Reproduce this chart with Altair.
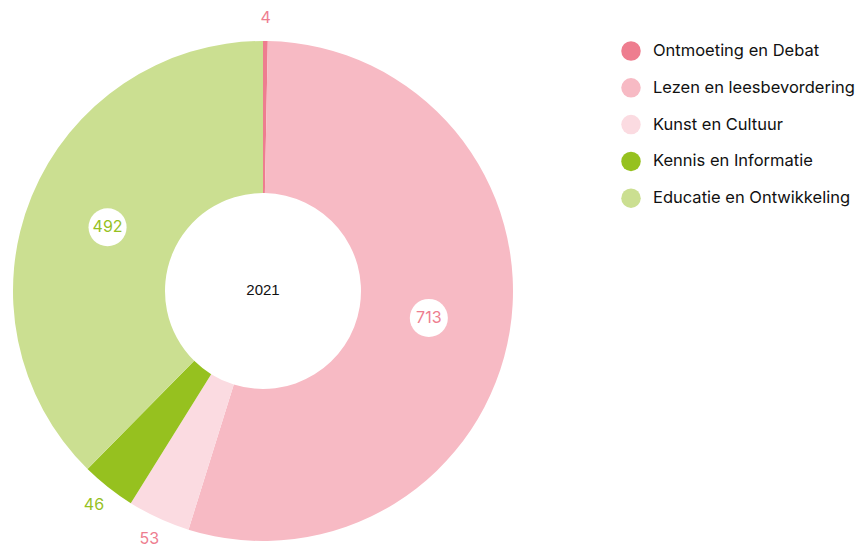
import altair as alt
import pandas as pd

categories = ["Ontmoeting en Debat", "Lezen en leesbevordering", "Kunst en Cultuur",
              "Kennis en Informatie", "Educatie en Ontwikkeling"]
values = [4, 713, 53, 46, 492]
slice_colors = ["#ee7d8f", "#f7bac4", "#fbdbe1", "#96c11f", "#cbdf91"]
label_colors = ["#ee7d8f", "#ee7d8f", "#ee7d8f", "#96c11f", "#96c11f"]
center_label = "2021"

df = pd.DataFrame({"cat": categories, "value": values, "idx": list(range(len(values)))})

CX, CY = 255, 283
R_IN, R_OUT = 98, 250
R_LAB_IN, R_LAB_OUT = 168, 273

base = alt.Chart(df)

arcs = base.mark_arc(innerRadius=R_IN, outerRadius=R_OUT).encode(
    theta=alt.Theta("value:Q", stack=True),
    order=alt.Order("idx:Q"),
    color=alt.Color("cat:N", scale=alt.Scale(domain=categories, range=slice_colors),
                    legend=alt.Legend(title=None, orient="none", legendX=613, legendY=33,
                                      symbolType="circle", symbolSize=380, symbolStrokeWidth=0,
                                      labelFontSize=16.5, labelFont="Inter", labelColor="#111111",
                                      labelOffset=12, rowPadding=16.8, padding=0, labelLimit=400)),
    x=alt.value(CX), y=alt.value(CY),
)

pos = base.transform_joinaggregate(total="sum(value)").transform_window(
    cum="sum(value)", sort=[alt.SortField("idx")]
).transform_calculate(
    mid="2*PI*((datum.cum - datum.value/2)/datum.total)",
    share="datum.value/datum.total",
).transform_calculate(
    r=f"datum.share > 0.2 ? {R_LAB_IN} : {R_LAB_OUT}",
).transform_calculate(
    px=f"{CX} + datum.r*sin(datum.mid)",
    py=f"{CY} - datum.r*cos(datum.mid)",
)

bubbles = pos.transform_filter("datum.share > 0.2").mark_circle(
    color="white", opacity=1, size=1450
).encode(
    x=alt.X("px:Q", scale=None, axis=None),
    y=alt.Y("py:Q", scale=None, axis=None),
)

labels = pos.mark_text(fontSize=16, font="Inter", baseline="middle", align="center").encode(
    x=alt.X("px:Q", scale=None, axis=None),
    y=alt.Y("py:Q", scale=None, axis=None),
    text=alt.Text("value:Q"),
    color=alt.Color("cat:N", scale=alt.Scale(domain=categories, range=label_colors), legend=None),
)

center = alt.Chart(pd.DataFrame({"t": [center_label]})).mark_text(
    fontSize=15, font="Liberation Sans", color="#111111", baseline="middle", align="center"
).encode(x=alt.value(CX), y=alt.value(CY - 1), text="t:N")

chart = alt.layer(arcs, bubbles, labels, center).resolve_scale(color="independent").properties(
    width=851, height=542, padding=0, autosize=alt.AutoSizeParams(type="none")
).configure_view(stroke=None)

chart.save("out.html", embed_options={"renderer": "svg", "actions": False})
